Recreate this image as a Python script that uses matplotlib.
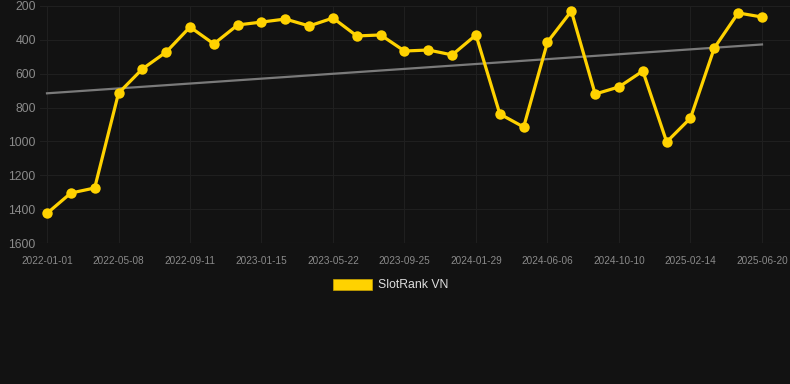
import matplotlib.pyplot as plt
import numpy as np
from matplotlib.patches import Rectangle

# rank values, one point every ~6 weeks (lower rank = better, axis inverted)
ranks = [1425, 1305, 1275, 715, 572, 472, 324, 424, 312, 295, 277, 318, 271,
         377, 371, 466, 460, 489, 371, 838, 915, 413, 230, 720, 678, 584,
         1003, 862, 448, 241, 265]
tick_labels = ['2022-01-01', '2022-05-08', '2022-09-11', '2023-01-15',
               '2023-05-22', '2023-09-25', '2024-01-29', '2024-06-06',
               '2024-10-10', '2025-02-14', '2025-06-20']
series_name = 'SlotRank VN'

plt.rcParams['font.family'] = ['Liberation Sans', 'DejaVu Sans']

bg = '#121212'
gold = '#FFD200'

x = np.arange(len(ranks))

fig = plt.figure(figsize=(7.9, 3.84), dpi=100, facecolor=bg)
ax = fig.add_axes([40/790, 1 - 243/384, 750/790, 237/384])
ax.set_facecolor(bg)

# trend line (linear fit)
k, b = np.polyfit(x, ranks, 1)
ax.plot(x, k*x + b, color='#7a7a7a', linewidth=1.6, zorder=2)

ax.plot(x, ranks, color=gold, linewidth=2.3, marker='o', markersize=7.5,
        markeredgewidth=0, zorder=3)

ax.set_ylim(1600, 200)
ax.set_xlim(-7/23.83, 30 + 28/23.83)
ax.set_yticks(range(200, 1601, 200))
ax.set_xticks(x[::3])
ax.set_xticklabels(tick_labels)

ax.grid(True, color='#1f1f1f', linewidth=0.8)
for s in ax.spines.values():
    s.set_visible(False)
ax.axhline(1600, color='#2a2a2a', linewidth=0.8, zorder=1)
ax.tick_params(axis='both', length=0, colors='#8a8a8a')
ax.tick_params(axis='y', labelsize=8.8, pad=3)
ax.tick_params(axis='x', labelsize=7.2, pad=9)

# legend
fig.patches.append(Rectangle((333/790, 1 - 290/384), 39/790, 11/384,
                             transform=fig.transFigure, facecolor=gold,
                             edgecolor='#c9a400', linewidth=0.5))
fig.text(378/790, 1 - 285/384, series_name, color='#dddddd', fontsize=8.8,
         va='center', ha='left')

fig.savefig('out.png', dpi=100, facecolor=bg)
